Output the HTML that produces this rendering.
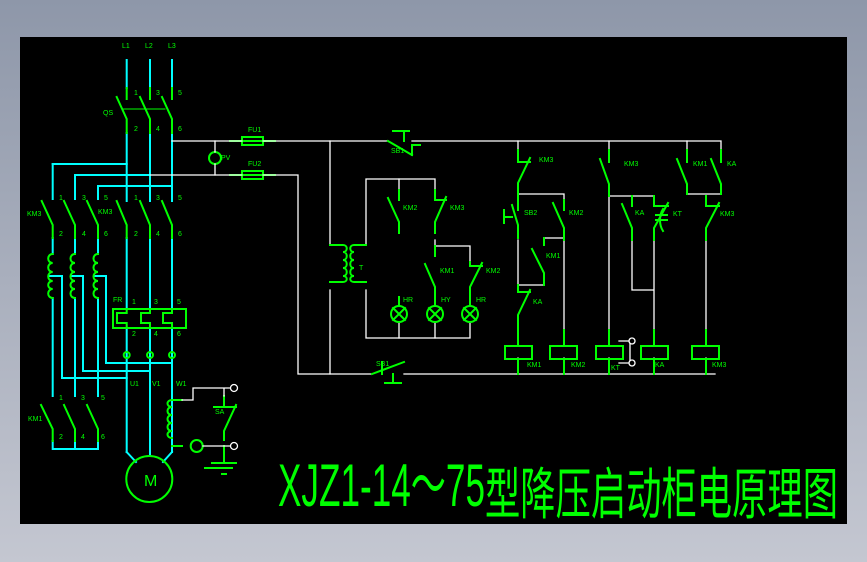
<!DOCTYPE html>
<html><head><meta charset="utf-8"><style>
html,body{margin:0;padding:0;width:867px;height:562px;overflow:hidden;background:linear-gradient(#8e97a9,#c4c7d1);}
svg{display:block}
text{font-family:"Liberation Sans","Noto Sans CJK SC",sans-serif;}
</style></head><body>
<svg width="867" height="562" viewBox="0 0 867 562" xmlns="http://www.w3.org/2000/svg">
<rect x="20" y="37" width="827" height="487" fill="#000"/>
<g fill="none" stroke-linecap="square">
<g stroke="#00ffff" stroke-width="2">
<path d="M126.7 60V88M150 60V88M172 60V88"/>
<path d="M126.7 133V201M150 133V201M172 133V201"/>
<path d="M52.7 164H126.7M75 175H150M98 186H172"/>
<path d="M52.7 164V199M75 175V199M98 186V199"/>
<path d="M52.7 238V254M75 238V254M98 238V254"/>
<path d="M126.7 238V309M150 238V309M172 238V309"/>
<path d="M126.7 328V452M150 328V456M172 328V452"/>
<path d="M50 276H62V378H126.7M72 276H83V371H150M95 276H106V363H172"/>
<path d="M52.7 298V396M75 298V396M98 298V396"/>
<path d="M52.7 441V449H98V441M75 441V449"/>
<path d="M126.7 452L136 462M172 452L163 462M150 452V456"/>
</g>
<g stroke="#00ff00" stroke-width="2">
<path d="M126.7 88V99M150 88V99M172 88V99"/>
<path d="M116.7 97L126.7 119V133M140 97L150 119V133M162 97L172 119V133"/>
<path d="M41.7 201L52.7 225V238M64 201L75 225V238M87 201L98 225V238"/>
<path d="M116.7 201L126.7 225V238M140 201L150 225V238M162 201L172 225V238"/>
<path d="M41 405L52.7 429V441M64 405L75 429V441M87 405L98 429V441"/>
<path d="M52.7 254c-6 0-6 9 0 9c-6 0-6 9 0 9c-6 0-6 9 0 9c-6 0-6 8 0 8c-6 0-6 9 0 9M75 254c-6 0-6 9 0 9c-6 0-6 9 0 9c-6 0-6 9 0 9c-6 0-6 8 0 8c-6 0-6 9 0 9M98 254c-6 0-6 9 0 9c-6 0-6 9 0 9c-6 0-6 9 0 9c-6 0-6 8 0 8c-6 0-6 9 0 9"/>
<rect x="113" y="309" width="73" height="19"/>
<path d="M126.7 309V313H117V323H126.7V328M150 309V313H141V323H150V328M172 309V313H163V323H172V328"/>
<circle cx="126.7" cy="355" r="3"/><circle cx="150" cy="355" r="3"/><circle cx="172" cy="355" r="3"/>
<circle cx="149.3" cy="479" r="23"/>
<path d="M172 400c-6 0-6 7 0 7c-6 0-6 8 0 8c-6 0-6 8 0 8c-6 0-6 8 0 8c-6 0-6 7 0 7M172 400H182M172 446H182"/>
<circle cx="196.7" cy="446" r="6"/>
<path d="M224 396V407M214 407H236M236 405L224 431V440M224 446V463"/>
<path d="M212 463H236M205 468H232M222 474H226"/>
<path d="M122 109H165" stroke-width="1"/>
<path d="M230 141H275M230 175H275"/><rect x="242" y="137" width="21" height="8"/><rect x="242" y="171" width="21" height="8"/>
<circle cx="215" cy="158" r="6"/>
</g>
<g stroke="#fff" stroke-width="1.3">
<path d="M172 141H242M263 141H388M412 141H720"/>
<path d="M150 175H242M263 175H298V374H372M404 374H715"/>
<path d="M215 141V152M215 164V175"/>
<path d="M330 141V245M330 290V374"/>
<path d="M366 245V179H435V190M366 290V338H470V322"/>
<path d="M399 179V190M399 338V322M435 338V322M435 240V246H470V262"/>
<path d="M182 400H193V388H231M203 446H231M224 388V396"/>
<path d="M518 141V150M518 194H564V200M518 240V285M518 285H544V280M564 232V330M544 245V238H564"/>
<path d="M518 358V374M564 358V374M609 358V374M654 358V374M706 358V374"/>
<path d="M609 141V160M687 141V150M721 141V150M687 194H721"/>
<path d="M609 196V330M609 196H654M632 240V290H654M654 240V330M706 240V330"/>
<path d="M619 341H630V363H619"/>
</g>
<g stroke="#00ff00" stroke-width="2">
<path d="M388 141L412 155M398 131H404V141M393 131H409M412 155V145H420"/>
<path d="M372 374L404 362M382 362V374M393 374V383M385 383H401"/>
<path d="M330 245H343c5 0 5 7 0 7c5 0 5 8 0 8c5 0 5 8 0 8c5 0 5 8 0 8c5 0 5 6 0 6H330M366 245H354c-5 0-5 7 0 7c-5 0-5 8 0 8c-5 0-5 8 0 8c-5 0-5 8 0 8c-5 0-5 6 0 6H366"/>
<path d="M399 190V200M388 198L399 222V233M435 190V200H446M446 197L435 222V233"/>
<path d="M435 246V256M425 264L435 287V297M470 262V266H482M482 263L470 287V297"/>
<path d="M399 297V306M435 297V306M470 297V306"/>
<circle cx="399" cy="314" r="8"/><circle cx="435" cy="314" r="8"/><circle cx="470" cy="314" r="8"/>
<path d="M393 308L405 320M405 308L393 320M429 308L441 320M441 308L429 320M464 308L476 320M476 308L464 320"/>
<path d="M518 150V162H530M530 158L518 183V200M518 200V210M512 205L518 225V238M504 210V223M504 217H512"/>
<path d="M564 200V210M553 203L564 228V240M544 238V245M532 249L544 273V285"/>
<path d="M518 285V292H530M530 290L518 315V346M564 330V346M609 330V346M654 330V346M706 330V346"/>
<path d="M609 150V162M600 159L609 184V196M632 196V206M622 204L632 228V240M654 196V206H668M668 203L654 228V240M663 209c-4 6-4 16 0 22M656 215H667M656 220H667"/>
<path d="M687 150V162M677 159L687 184V194M721 150V162M711 159L721 184V194M706 196V206H719M719 203L706 228V240"/>
<rect x="505" y="346" width="27" height="13"/><rect x="550" y="346" width="27" height="13"/><rect x="596" y="346" width="27" height="13"/><rect x="641" y="346" width="27" height="13"/><rect x="692" y="346" width="27" height="13"/>
<path d="M518 359V374M564 359V374M609 359V374M654 359V374M706 359V374"/>
</g>
<g stroke="#fff" stroke-width="1.3" fill="#000">
<circle cx="234" cy="388" r="3.5"/><circle cx="234" cy="446" r="3.5"/>
<circle cx="632" cy="341" r="3"/><circle cx="632" cy="363" r="3"/>
</g>
</g>
<g fill="#00ff00" font-size="7">
<text x="122" y="48">L1</text><text x="145" y="48">L2</text><text x="168" y="48">L3</text>
<text x="134" y="95">1</text><text x="156" y="95">3</text><text x="178" y="95">5</text>
<text x="134" y="131">2</text><text x="156" y="131">4</text><text x="178" y="131">6</text>
<text x="103" y="115">QS</text>
<text x="59" y="200">1</text><text x="82" y="200">3</text><text x="104" y="200">5</text>
<text x="134" y="200">1</text><text x="156" y="200">3</text><text x="178" y="200">5</text>
<text x="59" y="236">2</text><text x="82" y="236">4</text><text x="104" y="236">6</text>
<text x="134" y="236">2</text><text x="156" y="236">4</text><text x="178" y="236">6</text>
<text x="27" y="216">KM3</text><text x="98" y="214">KM3</text>
<text x="113" y="302">FR</text><text x="132" y="304">1</text><text x="154" y="304">3</text><text x="177" y="304">5</text>
<text x="132" y="336">2</text><text x="154" y="336">4</text><text x="177" y="336">6</text>
<text x="130" y="386">U1</text><text x="152" y="386">V1</text><text x="176" y="386">W1</text>
<text x="59" y="400">1</text><text x="81" y="400">3</text><text x="101" y="400">5</text>
<text x="59" y="439">2</text><text x="81" y="439">4</text><text x="101" y="439">6</text>
<text x="28" y="421">KM1</text><text x="215" y="414">SA</text>
<text x="248" y="132">FU1</text><text x="248" y="166">FU2</text><text x="221" y="160">PV</text>
<text x="391" y="153">SB1</text><text x="376" y="366">SB1</text><text x="359" y="270">T</text>
<text x="403" y="210">KM2</text><text x="450" y="210">KM3</text><text x="440" y="273">KM1</text><text x="486" y="273">KM2</text>
<text x="403" y="302">HR</text><text x="441" y="302">HY</text><text x="476" y="302">HR</text>
<text x="539" y="162">KM3</text><text x="524" y="215">SB2</text><text x="569" y="215">KM2</text><text x="546" y="258">KM1</text><text x="533" y="304">KA</text>
<text x="624" y="166">KM3</text><text x="693" y="166">KM1</text><text x="727" y="166">KA</text>
<text x="635" y="215">KA</text><text x="673" y="216">KT</text><text x="720" y="216">KM3</text>
<text x="527" y="367">KM1</text><text x="571" y="367">KM2</text><text x="611" y="370">KT</text><text x="655" y="367">KA</text><text x="712" y="367">KM3</text>
<text x="144" y="486" font-size="16">M</text>
</g>
<g fill="#00ff00">
<text x="278" y="506" font-size="60" textLength="207" lengthAdjust="spacingAndGlyphs">XJZ1-14～75</text>
<text x="485" y="514" font-size="56" textLength="353" lengthAdjust="spacingAndGlyphs">型降压启动柜电原理图</text>
</g>
</svg>
</body></html>
